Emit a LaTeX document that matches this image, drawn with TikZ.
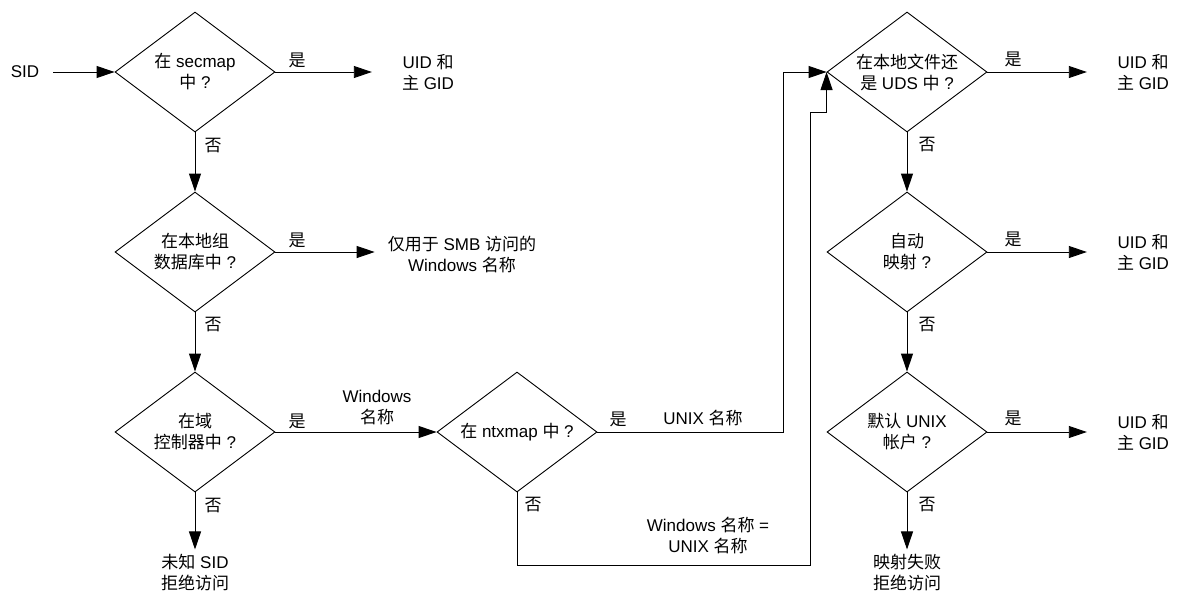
\documentclass[tikz,border=0pt]{standalone}
\usepackage{fontspec}
\setmainfont{Liberation Sans}
\newfontfamily\cjk{Noto Sans CJK SC}
\newcommand\zh[1]{{\cjk #1}}
\usetikzlibrary{shapes.geometric,arrows.meta}
\tikzset{
  dia/.style={draw, diamond, minimum width=160pt, minimum height=120pt, inner sep=0pt, line width=0.9pt},
  txt/.style={font=\fontsize{17}{21}\selectfont, align=center, inner sep=0pt},
  arr/.style={-{Triangle[length=18pt,width=12pt]}, line width=0.9pt},
  ln/.style={line width=0.9pt}
}
\begin{document}
\begin{tikzpicture}[x=1pt,y=-1pt]
\useasboundingbox (0,0) rectangle (1180,598);
% diamonds
\node[dia] (d1) at (195,72) {};
\node[dia] (d2) at (195,252) {};
\node[dia] (d3) at (195,432) {};
\node[dia] (d4) at (517,432) {};
\node[dia] (d5) at (907,72) {};
\node[dia] (d6) at (907,252) {};
\node[dia] (d7) at (907,432) {};
% diamond texts
\node[txt] at (d1) {\zh{在} secmap\\\zh{中} ?};
\node[txt] at (d2) {\zh{在本地组}\\\zh{数据库中} ?};
\node[txt] at (d3) {\zh{在域}\\\zh{控制器中} ?};
\node[txt] at (d4) {\zh{在} ntxmap \zh{中} ?};
\node[txt] at (d5) {\zh{在本地文件还}\\\zh{是} UDS \zh{中} ?};
\node[txt] at (d6) {\zh{自动}\\\zh{映射} ?};
\node[txt] at (d7) {\zh{默认} UNIX\\\zh{帐户} ?};
% terminal texts
\node[txt] (sid) at (25,72) {SID};
\node[txt] (o1) at (428,72) {UID \zh{和}\\\zh{主} GID};
\node[txt] (o2) at (462,255) {\zh{仅用于} SMB \zh{访问的}\\Windows \zh{名称}};
\node[txt] (o3) at (195,573) {\zh{未知} SID\\\zh{拒绝访问}};
\node[txt] (o5) at (1143,72) {UID \zh{和}\\\zh{主} GID};
\node[txt] (o6) at (1143,252) {UID \zh{和}\\\zh{主} GID};
\node[txt] (o7) at (1143,432) {UID \zh{和}\\\zh{主} GID};
\node[txt] (o8) at (907,573) {\zh{映射失败}\\\zh{拒绝访问}};
% edge labels
\node[txt] at (297,60) {\zh{是}};
\node[txt] at (297,240) {\zh{是}};
\node[txt] at (297,421) {\zh{是}};
\node[txt] at (618,419) {\zh{是}};
\node[txt] at (1013,59) {\zh{是}};
\node[txt] at (1013,239) {\zh{是}};
\node[txt] at (1013,418) {\zh{是}};
\node[txt] at (213,146) {\zh{否}};
\node[txt] at (213,325) {\zh{否}};
\node[txt] at (213,506) {\zh{否}};
\node[txt] at (533,505) {\zh{否}};
\node[txt] at (927,145) {\zh{否}};
\node[txt] at (927,325) {\zh{否}};
\node[txt] at (927,505) {\zh{否}};
\node[txt] at (377,408) {Windows\\\zh{名称}};
\node[txt] at (703,418) {UNIX \zh{名称}};
\node[txt] at (708,536) {Windows \zh{名称} =\\UNIX \zh{名称}};
% connectors
\draw[arr, shorten <=14pt] (sid.east) -- (d1.west);
\draw[arr, shorten >=30pt] (d1.east) -- (o1.west |- d1.east);
\draw[arr] (d1.south) -- (d2.north);
\draw[arr, shorten >=13pt] (d2.east) -- (o2.west |- d2.east);
\draw[arr] (d2.south) -- (d3.north);
\draw[arr, shorten >=5pt] (d3.south) -- (o3.north);
\draw[arr] (d3.east) -- (d4.west);
\coordinate (k1) at (783,432);
\draw[arr] (d4.east) -- (k1) |- (d5.west);
\coordinate (k2) at (517,565);
\coordinate (k3) at (810,565);
\coordinate (k4) at (810,112);
\draw[arr] (d4.south) -- (k2) -- (k3) -- (k4) -| (d5.west);
\draw[arr, shorten >=30pt] (d5.east) -- (o5.west |- d5.east);
\draw[arr] (d5.south) -- (d6.north);
\draw[arr, shorten >=30pt] (d6.east) -- (o6.west |- d6.east);
\draw[arr] (d6.south) -- (d7.north);
\draw[arr, shorten >=30pt] (d7.east) -- (o7.west |- d7.east);
\draw[arr, shorten >=5pt] (d7.south) -- (o8.north);
\end{tikzpicture}
\end{document}
